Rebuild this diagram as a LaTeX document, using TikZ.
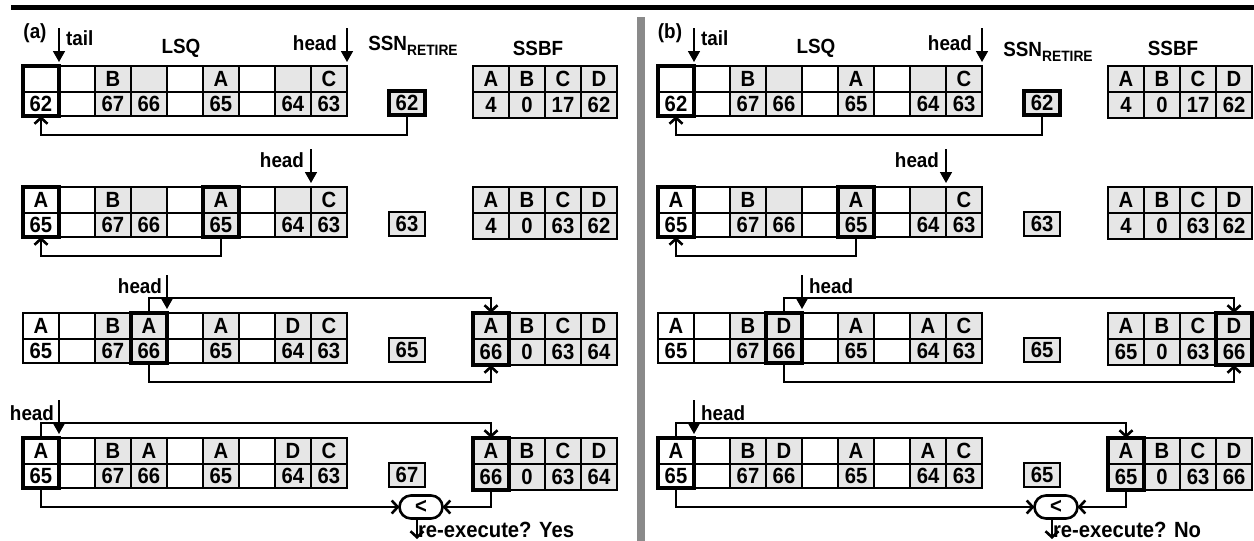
\documentclass[tikz,border=0pt]{standalone}
\usepackage{fontspec}
\setmainfont{Liberation Sans}[FakeStretch=0.92]
\usetikzlibrary{arrows.meta,positioning,shapes.misc}
\definecolor{cellgray}{HTML}{E6E6E6}
\definecolor{bargray}{HTML}{8A8A8A}

\begin{document}
\begin{tikzpicture}[x=1pt, y=-1pt,
    every node/.style={font=\bfseries\fontsize{22}{22}\selectfont, inner sep=0pt, outer sep=0pt},
    lbl/.style={font=\bfseries\fontsize{20.5}{20.5}\selectfont},
    cell/.style={draw, line width=1.5pt, minimum width=36pt, minimum height=26pt, anchor=north west},
    hl/.style={line width=3.2pt},
    ssn/.style={draw, fill=cellgray, line width=1.5pt, minimum width=36pt, minimum height=24pt},
    cmp/.style={draw, fill=white, rounded rectangle, line width=2.6pt, minimum width=43pt, minimum height=23pt},
    conn/.style={line width=2.6pt, -{Straight Barb[length=6pt,width=13pt]}},
    ptr/.style={line width=1.6pt, -{Triangle[length=11pt,width=12pt]}}]
  \useasboundingbox (0,0) rectangle (1254,541);
  \fill (11,5) rectangle (1254,10);
  \fill[bargray] (637,17) rectangle (645,541);

  % LSQ, SSN_RETIRE and SSBF of every step
  \foreach \q/\x/\y/\first/\s/\va/\vb/\vc/\vd in {a1/0/66/62/62/4/0/17/62, a2/0/187/65/63/4/0/63/62,
      a3/0/313/65/65/66/0/63/64, a4/0/438/65/67/66/0/63/64, b1/635/66/62/62/4/0/17/62,
      b2/635/187/65/63/4/0/63/62, b3/635/313/65/65/65/0/63/66, b4/635/438/65/65/65/0/63/66} {
    \foreach \i/\f/\val in {1/white/\first, 2/white/{}, 3/cellgray/67, 4/cellgray/66, 5/white/{},
        6/cellgray/65, 7/white/{}, 8/cellgray/64, 9/cellgray/63} {
      \node[cell, fill=\f] (\q-t\i) at ({23+36*(\i-1)+\x}, \y) {};
      \node[cell, fill=\f, minimum height=24pt, below=0pt of \q-t\i] (\q-b\i) {\val};
    }
    \node[ssn] (\q-s) at (407+\x, \y+37) {\s};
    \foreach \j/\lt/\val in {1/A/\va, 2/B/\vb, 3/C/\vc, 4/D/\vd} {
      \node[cell, fill=cellgray] (\q-ft\j) at ({473+36*(\j-1)+\x}, \y) {\lt};
      \node[cell, fill=cellgray, below=0pt of \q-ft\j] (\q-fb\j) {\val};
    }
  }
  \foreach \q/\i/\lt in {a1/3/B, a1/6/A, a1/9/C, a2/1/A, a2/3/B, a2/6/A, a2/9/C,
      a3/1/A, a3/3/B, a3/4/A, a3/6/A, a3/8/D, a3/9/C, a4/1/A, a4/3/B, a4/4/A, a4/6/A, a4/8/D, a4/9/C,
      b1/3/B, b1/6/A, b1/9/C, b2/1/A, b2/3/B, b2/6/A, b2/9/C,
      b3/1/A, b3/3/B, b3/4/D, b3/6/A, b3/8/A, b3/9/C, b4/1/A, b4/3/B, b4/4/D, b4/6/A, b4/8/A, b4/9/C}
    \node at (\q-t\i) {\lt};

  % highlighted entries
  \foreach \q/\i in {a1/1, a2/1, a2/6, a3/4, a4/1, b1/1, b2/1, b2/6, b3/4, b4/1}
    \draw[hl] (\q-t\i.north west) rectangle (\q-b\i.south east);
  \foreach \q/\j in {a3/1, a4/1, b3/4, b4/1}
    \draw[hl] (\q-ft\j.north west) rectangle (\q-fb\j.south east);
  \foreach \q in {a1, b1}
    \draw[hl] (\q-s.north west) rectangle (\q-s.south east);

  % titles
  \foreach \p/\x/\sy in {a/0/50, b/635/56} {
    \node[lbl] at (35+\x, 33) {(\p)};
    \node[lbl, anchor=base west] at (66+\x, 45) {tail};
    \node[lbl, anchor=base] at (181+\x, 53) {LSQ};
    \node[lbl, anchor=base] at (413+\x, \sy) {SSN\raisebox{-5pt}{\fontsize{15}{15}\selectfont RETIRE}};
    \node[lbl, anchor=base] at (538+\x, 55) {SSBF};
    \node[lbl, anchor=base east] at (337+\x, 50) {head};
    \node[lbl, anchor=base east] at (304+\x, 167) {head};
  }
  \node[lbl, anchor=base east] at (162, 293) {head};
  \node[lbl, anchor=base east] at (54, 420) {head};
  \node[lbl, anchor=base west] at (809, 293) {head};
  \node[lbl, anchor=base west] at (701, 420) {head};

  % tail and head pointers
  \foreach \q/\i in {a1/1, b1/1, a1/9, b1/9, a2/8, b2/8, a3/4, b3/4, a4/1, b4/1}
    \draw[ptr] (\q-t\i.north east) ++(0,-38) -- ++(0,34);

  % retire / store / compare
  \foreach \q in {a1, b1}
    \draw[conn] (\q-s.south) -- ++(0,20) -| (\q-b1.south);
  \foreach \q in {a2, b2}
    \draw[conn] (\q-b6.south) -- ++(0,19) -| (\q-b1.south);
  \foreach \q/\j in {a3/1, b3/4} {
    \draw[conn] (\q-t4.north) -- ++(0,-15) -| (\q-ft\j.north);
    \draw[conn] (\q-b4.south) -- ++(0,19) -| (\q-fb\j.south);
  }
  \foreach \q/\x/\ans in {a4/0/Yes, b4/635/No} {
    \draw[conn] (\q-t1.north) -- ++(0,-15) -| (\q-ft1.north);
    \node[cmp] (\q-c) at (421+\x, 507) {<};
    \draw[conn] (\q-b1.south) |- (\q-c.west);
    \draw[conn] (\q-fb1.south) |- (\q-c.east);
    \coordinate (\q-o) at (417+\x, 539);
    \draw[conn] (\q-c.south -| \q-o) -- (\q-o);
    \node[anchor=base west] at (418+\x, 537) {re-execute? \ans};
  }
\end{tikzpicture}
\end{document}
